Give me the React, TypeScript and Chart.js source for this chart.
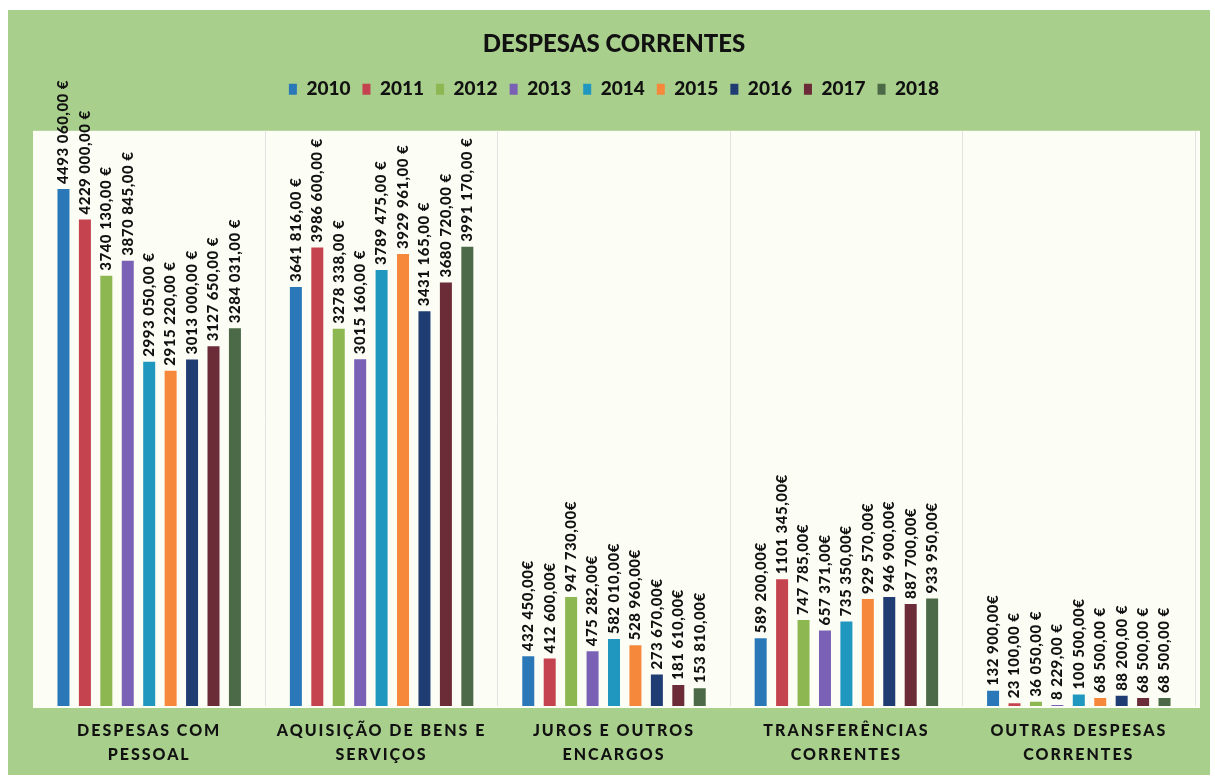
import React, { useEffect, useRef } from "react";
import { Chart, registerables } from "chart.js";

Chart.register(...registerables);

const categories: string[][] = [
  ["DESPESAS COM", "PESSOAL"],
  ["AQUISIÇÃO DE BENS E", "SERVIÇOS"],
  ["JUROS E OUTROS", "ENCARGOS"],
  ["TRANSFERÊNCIAS", "CORRENTES"],
  ["OUTRAS DESPESAS", "CORRENTES"],
];

const years = ["2010", "2011", "2012", "2013", "2014", "2015", "2016", "2017", "2018"];

const v2010 = [4493060, 3641816, 432450, 589200, 132900];
const v2011 = [4229000, 3986600, 412600, 1101345, 23100];
const v2012 = [3740130, 3278338, 947730, 747785, 36050];
const v2013 = [3870845, 3015160, 475282, 657371, 8229];
const v2014 = [2993050, 3789475, 582010, 735350, 100500];
const v2015 = [2915220, 3929961, 528960, 929570, 68500];
const v2016 = [3013000, 3431165, 273670, 946900, 88200];
const v2017 = [3127650, 3680720, 181610, 887700, 68500];
const v2018 = [3284031, 3991170, 153810, 933950, 68500];

const series = [v2010, v2011, v2012, v2013, v2014, v2015, v2016, v2017, v2018];

const colors = [
  "#2b78b8",
  "#c4434f",
  "#8cb751",
  "#7a61b6",
  "#1f97bf",
  "#f6883c",
  "#1f3d73",
  "#6b2b37",
  "#4d6a48",
];

// euro sign separator per category (as printed in the source)
const euroSep = [" €", " €", "€", "€", " €"];
// in "Outras despesas correntes", these years are printed without space before €
const tightOutrasYears = ["2010", "2014"];

function fmt(v: number, yearIdx: number, catIdx: number): string {
  const th = Math.floor(v / 1000);
  const r = v % 1000;
  const base = th > 0 ? `${th} ${String(r).padStart(3, "0")},00` : `${r},00`;
  let sep = euroSep[catIdx];
  if (catIdx === 4 && tightOutrasYears.includes(years[yearIdx])) sep = "€";
  return base + sep;
}

const FONT = 'Lato, "Liberation Sans", Arial, sans-serif';

const bgPlugin = {
  id: "plotBg",
  beforeDraw(chart: any) {
    const { ctx, chartArea } = chart;
    ctx.save();
    ctx.fillStyle = "#fcfdf5";
    ctx.fillRect(chartArea.left, chartArea.top, chartArea.right - chartArea.left + 5, chartArea.bottom - chartArea.top + 2);
    ctx.restore();
  },
};

const valueLabelPlugin = {
  id: "valueLabels",
  afterDatasetsDraw(chart: any) {
    const { ctx } = chart;
    chart.data.datasets.forEach((ds: any, di: number) => {
      const meta = chart.getDatasetMeta(di);
      meta.data.forEach((el: any, i: number) => {
        const text = fmt(ds.data[i], di, i);
        ctx.save();
        ctx.translate(el.x, el.y - 5);
        ctx.rotate(-Math.PI / 2);
        ctx.font = `900 15px ${FONT}`;
        (ctx as any).letterSpacing = "0.5px";
        ctx.fillStyle = "#111111";
        ctx.textAlign = "left";
        ctx.textBaseline = "middle";
        ctx.fillText(text, 0, 0);
        ctx.restore();
      });
    });
  },
};

const xLabelPlugin = {
  id: "xLabels",
  afterDraw(chart: any) {
    const { ctx, chartArea } = chart;
    const xs = chart.scales.x;
    ctx.save();
    ctx.font = `900 16px ${FONT}`;
    (ctx as any).letterSpacing = "2px";
    ctx.fillStyle = "#111111";
    ctx.textAlign = "center";
    ctx.textBaseline = "middle";
    categories.forEach((lines, i) => {
      const x = xs.getPixelForValue(i);
      lines.forEach((line, li) => {
        ctx.fillText(line, x, chartArea.bottom + 25 + li * 24);
      });
    });
    ctx.restore();
  },
};

export default function App() {
  const canvasRef = useRef<HTMLCanvasElement | null>(null);

  useEffect(() => {
    document.body.style.margin = "0";
    const canvas = canvasRef.current;
    if (!canvas) return;
    const chart = new Chart(canvas, {
      type: "bar",
      data: {
        labels: categories.map((c) => c.join(" ")),
        datasets: series.map((data, i) => ({
          label: years[i],
          data,
          backgroundColor: colors[i],
          borderWidth: 0,
          categoryPercentage: 0.83,
          barPercentage: 0.56,
        })),
      },
      options: {
        responsive: false,
        animation: false,
        devicePixelRatio: 1,
        layout: { padding: { left: 25, right: 15, top: 0, bottom: 69 } },
        scales: {
          x: {
            grid: {
              display: true,
              offset: true,
              color: (c: any) => (c.index === 0 || c.index === categories.length ? "rgba(0,0,0,0)" : "#e2e2e2"),
              drawTicks: false,
            },
            border: { display: false },
            ticks: { display: false },
          },
          y: {
            display: false,
            min: 0,
            max: 5000000,
          },
        },
        plugins: {
          title: {
            display: true,
            text: "DESPESAS CORRENTES",
            color: "#111111",
            font: { family: FONT, size: 24, weight: "900", lineHeight: 1.2 },
            padding: { top: 20, bottom: 9 },
          },
          subtitle: {
            display: true,
            text: "",
            weight: 500,
            font: { size: 1, lineHeight: 1 },
            padding: { top: 11, bottom: 10 },
          } as any,
          legend: {
            display: true,
            position: "top",
            labels: {
              color: "#111111",
              font: { family: FONT, size: 19, weight: "900" },
              boxWidth: 8,
              boxHeight: 11,
              padding: 12,
            },
          },
          tooltip: { enabled: false },
        },
      },
      plugins: [bgPlugin, valueLabelPlugin, xLabelPlugin],
    });
    return () => chart.destroy();
  }, []);

  return (
    <div style={{ position: "relative", width: 1215, height: 780, background: "#ffffff", overflow: "hidden" }}>
      <div style={{ position: "absolute", left: 8, top: 10, width: 1202, height: 765, background: "#a8cf8c" }}>
        <canvas ref={canvasRef} width={1202} height={765} style={{ display: "block" }} />
      </div>
    </div>
  );
}
